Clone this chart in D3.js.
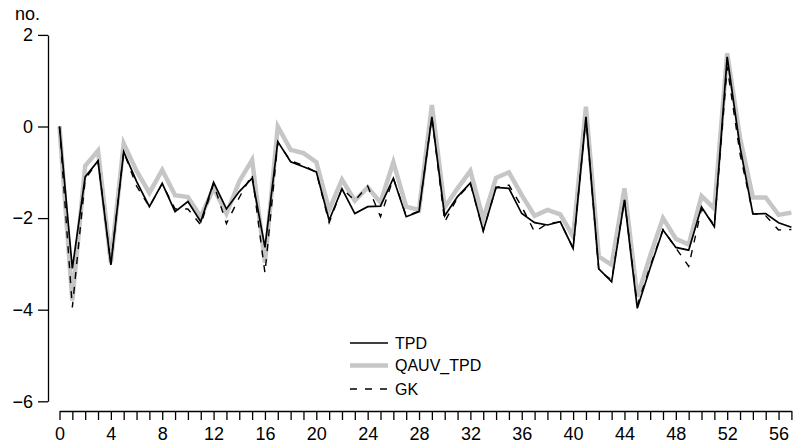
<!DOCTYPE html>
<html>
<head>
<meta charset="utf-8">
<script src="https://cdn.jsdelivr.net/npm/d3@7"></script>
<style>
  html, body { margin: 0; padding: 0; background: #fff; }
  svg { display: block; font-family: "Liberation Sans", Arial, sans-serif; }
</style>
</head>
<body>
<svg id="chart" width="796" height="446"></svg>
<script>
// Period index 0..57
const periods = d3.range(0, 58);

const tpd = [
  0, -3.1, -1.1, -0.75, -3.02, -0.55, -1.2, -1.75, -1.24, -1.86,
  -1.64, -2.08, -1.22, -1.8, -1.42, -1.13, -2.64, -0.33, -0.77, -0.88,
  -0.99, -2.05, -1.36, -1.9, -1.75, -1.74, -1.13, -1.97, -1.86, 0.21,
  -1.95, -1.53, -1.23, -2.28, -1.33, -1.35, -1.9, -2.1, -2.15, -2.08,
  -2.66, 0.21, -3.11, -3.39, -1.6, -3.97, -3.09, -2.26, -2.64, -2.7,
  -1.76, -2.19, 1.52, -0.45, -1.91, -1.9, -2.1, -2.2
];

const qauvTpd = [
  0, -3.8, -0.86, -0.53, -2.97, -0.37, -0.97, -1.45, -0.95, -1.5,
  -1.54, -1.97, -1.35, -1.9, -1.2, -0.73, -2.97, 0.0, -0.51, -0.58,
  -0.78, -1.82, -1.16, -1.62, -1.33, -1.66, -0.78, -1.75, -1.82, 0.47,
  -1.77, -1.35, -0.97, -2.02, -1.12, -1.0, -1.5, -1.95, -1.82, -1.92,
  -2.4, 0.43, -2.84, -3.02, -1.35, -3.72, -2.82, -2.0, -2.45, -2.58,
  -1.52, -1.79, 1.6, -0.25, -1.55, -1.55, -1.93, -1.88
];

const gk = [
  0, -3.95, -1.15, -0.75, -3.0, -0.55, -1.3, -1.75, -1.25, -1.8,
  -1.8, -2.15, -1.25, -2.12, -1.55, -1.05, -3.2, -0.35, -0.75, -0.85,
  -1.0, -2.1, -1.35, -1.62, -1.3, -1.97, -1.13, -1.95, -1.85, 0.2,
  -2.08, -1.55, -1.25, -2.28, -1.33, -1.28, -1.75, -2.3, -2.12, -2.08,
  -2.66, 0.2, -3.15, -3.35, -1.6, -3.9, -3.05, -2.25, -2.65, -3.05,
  -1.8, -2.15, 1.3, -0.6, -1.9, -1.95, -2.26, -2.25
];

const yTicks = [-6, -4, -2, 0, 2];
const xLabelTicks = [0, 4, 8, 12, 16, 20, 24, 28, 32, 36, 40, 44, 48, 52, 56];
const seriesNames = ["TPD", "QAUV_TPD", "GK"];

const svg = d3.select("#chart");

const x = d3.scaleLinear().domain([0, 57]).range([59.5, 791.4]);
const y = d3.scaleLinear().domain([-6, 2]).range([401.3, 34.9]);

// Y axis
const yAxis = d3.axisLeft(y)
  .tickValues(yTicks)
  .tickSize(10)
  .tickSizeOuter(0)
  .tickPadding(5)
  .tickFormat(d3.format("d"));
const gy = svg.append("g").attr("transform", "translate(48,0)").call(yAxis);
gy.selectAll("text").attr("font-size", 18).attr("fill", "#000");
gy.selectAll("line, path").attr("stroke", "#000").attr("stroke-width", 1.3);

// X axis: a tick at every period, labels every fourth
const xAxis = d3.axisBottom(x)
  .tickValues(periods)
  .tickSize(9)
  .tickSizeOuter(0)
  .tickPadding(7)
  .tickFormat(d => xLabelTicks.includes(d) ? d : "");
const gx = svg.append("g").attr("transform", "translate(0,411)").call(xAxis);
gx.selectAll("text").attr("font-size", 18).attr("fill", "#000");
gx.selectAll("line, path").attr("stroke", "#000").attr("stroke-width", 1.3);

// Unit label
svg.append("text")
  .attr("x", 15).attr("y", 20)
  .attr("font-size", 18)
  .text("no.");

const line = d3.line()
  .x((d, i) => x(periods[i]))
  .y(d => y(d));

// Series, grey band underneath
const styles = {
  "QAUV_TPD": { stroke: "#c6c6c6", width: 4.5, dash: null },
  "GK": { stroke: "#000", width: 1.4, dash: "7,8" },
  "TPD": { stroke: "#000", width: 1.7, dash: null }
};
const dataBy = { "TPD": tpd, "QAUV_TPD": qauvTpd, "GK": gk };

["QAUV_TPD", "GK", "TPD"].forEach(name => {
  const s = styles[name];
  svg.append("path")
    .datum(dataBy[name])
    .attr("fill", "none")
    .attr("stroke", s.stroke)
    .attr("stroke-width", s.width)
    .attr("stroke-linejoin", "miter")
    .attr("stroke-dasharray", s.dash)
    .attr("d", line);
});

// Legend
const legend = svg.append("g").attr("transform", "translate(350,343)");
seriesNames.forEach((name, i) => {
  const s = styles[name];
  const gy0 = [0, 22.5, 46][i];
  legend.append("line")
    .attr("x1", 0).attr("x2", 38)
    .attr("y1", gy0).attr("y2", gy0)
    .attr("stroke", s.stroke)
    .attr("stroke-width", s.width)
    .attr("stroke-dasharray", s.dash);
  legend.append("text")
    .attr("x", 45).attr("y", gy0)
    .attr("dy", "0.35em")
    .attr("font-size", 16)
    .text(name);
});
</script>
</body>
</html>
